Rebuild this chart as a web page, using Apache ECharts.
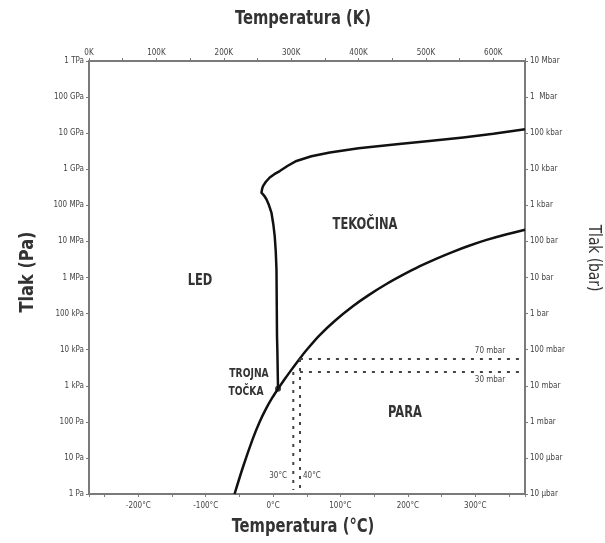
<!DOCTYPE html>
<html>
<head>
<meta charset="utf-8">
<script src="https://cdn.jsdelivr.net/npm/echarts@6/dist/echarts.min.js"></script>
<style>
  html, body { margin: 0; padding: 0; background: #fff; }
  #chart { width: 605px; height: 543px; }
</style>
</head>
<body>
<div id="chart"></div>
<script>
// tick labels (left = Pa, right = bar), index = log10(Pa)
const paLabels = ['1 Pa', '10 Pa', '100 Pa', '1 kPa', '10 kPa', '100 kPa', '1 MPa', '10 MPa', '100 MPa', '1 GPa', '10 GPa', '100 GPa', '1 TPa'];
const barLabels = ['10 µbar', '100 µbar', '1 mbar', '10 mbar', '100 mbar', '1 bar', '10 bar', '100 bar', '1 kbar', '10 kbar', '100 kbar', '1  Mbar', '10 Mbar'];
const kelvinTicks = [0, 100, 200, 300, 400, 500, 600];
const celsiusTicks = [-200, -100, 0, 100, 200, 300];

// sublimation + vaporisation curve (K, Pa)
const vapKelvin = [216, 228.5, 243, 253, 263, 272, 280.5, 290, 300, 313, 325, 342, 365, 392, 415, 442, 465, 491, 515, 541, 565, 590, 620, 647];
const vapPa = [1, 5.6, 33.7, 98, 236, 467, 820, 1486, 2712, 5730, 1.09e4, 2.5e4, 6.35e4, 1.62e5, 3.25e5, 6.7e5, 1.16e6, 2.06e6, 3.3e6, 5.24e6, 7.7e6, 1.1e7, 1.58e7, 2.1e7];

// melting curve (K, Pa)
const meltKelvin = [280.5, 279.5, 279, 278.2, 277.2, 275.6, 273.5, 270.7, 267, 263.3, 259.5, 255.9, 256.8, 258.2, 262.5, 268.2, 275, 283.1, 295, 307.9, 330, 357.4, 400, 456.5, 505, 555.4, 600, 647];
const meltPa = [820, 1e4, 2.34e4, 1.67e6, 5e6, 1.4e7, 3e7, 6.3e7, 1.02e8, 1.47e8, 1.9e8, 2.24e8, 2.8e8, 3.4e8, 4.5e8, 5.9e8, 7.3e8, 8.9e8, 1.25e9, 1.7e9, 2.3e9, 2.9e9, 3.8e9, 4.9e9, 6.1e9, 7.6e9, 9.6e9, 1.29e10];

// trojna točka
const tripleK = 280.5;
const triplePa = 820;

// pomožne črte
const isobarPa = [5520, 2400];
const isobarStartK = 313;
const isotherms = [30, 40];
const isothermTopPa = [2400, 5520];
const isothermBottomPa = 1.3;

const KMAX = 647;
const FONT = "'Liberation Sans Narrow', 'DejaVu Sans Condensed', 'Liberation Sans', sans-serif";
const logP = (p) => Math.log10(p);

const chart = echarts.init(document.getElementById('chart'));

function zip(xs, ys) {
  return xs.map((x, i) => [x, logP(ys[i])]);
}

const axisCommon = {
  axisLine: { onZero: false, lineStyle: { color: '#7a7a7a', width: 2 } },
  axisTick: { show: true, length: 3, lineStyle: { color: '#7a7a7a' } },
  splitLine: { show: false },
  axisLabel: { fontFamily: FONT, fontSize: 8, color: '#444' }
};

function pickLabel(ticks, v, suffix) {
  for (let i = 0; i < ticks.length; i++) {
    if (Math.abs(ticks[i] - v) < 0.01) return ticks[i] + suffix;
  }
  return '';
}

const dashStyle = { color: '#444', width: 2, type: [3, 6] };

function txt(x, y, text, font, opts) {
  return Object.assign({
    type: 'text', x: x, y: y,
    style: { text: text, font: font + ' ' + FONT, fill: '#333', align: 'center', verticalAlign: 'middle' }
  }, opts || {});
}

function small(x, y, text, align) {
  return { type: 'text', x: x, y: y, style: { text: text, font: '8px ' + FONT, fill: '#444', align: align, verticalAlign: 'middle' } };
}

const option = {
  animation: false,
  grid: { left: 89, right: 80, top: 61, bottom: 49 },
  xAxis: [
    Object.assign({}, axisCommon, {
      type: 'value', position: 'bottom',
      min: -273.15, max: KMAX - 273.15, splitNumber: 5,
      minorTick: { show: true, splitNumber: 2, length: 3, lineStyle: { color: '#7a7a7a' } },
      axisLabel: Object.assign({}, axisCommon.axisLabel, {
        margin: 8,
        formatter: (v) => pickLabel(celsiusTicks, v, '°C')
      })
    }),
    Object.assign({}, axisCommon, {
      type: 'value', position: 'top',
      min: 0, max: KMAX, interval: 100,
      minorTick: { show: true, splitNumber: 2, length: 3, lineStyle: { color: '#7a7a7a' } },
      axisLabel: Object.assign({}, axisCommon.axisLabel, {
        margin: 4,
        formatter: (v) => pickLabel(kelvinTicks, v, 'K')
      })
    })
  ],
  yAxis: [
    Object.assign({}, axisCommon, {
      type: 'value', position: 'left',
      min: 0, max: 12, interval: 1,
      axisLabel: Object.assign({}, axisCommon.axisLabel, {
        margin: 5,
        formatter: (v) => paLabels[Math.round(v)]
      })
    }),
    Object.assign({}, axisCommon, {
      type: 'value', position: 'right',
      min: 0, max: 12, interval: 1,
      axisLabel: Object.assign({}, axisCommon.axisLabel, {
        margin: 5,
        formatter: (v) => barLabels[Math.round(v)]
      })
    })
  ],
  series: [
    {
      type: 'line', xAxisIndex: 1, yAxisIndex: 0,
      data: zip(vapKelvin, vapPa),
      smooth: 0.3, showSymbol: false,
      lineStyle: { color: '#111', width: 2.5 }
    },
    {
      type: 'line', xAxisIndex: 1, yAxisIndex: 0,
      data: zip(meltKelvin, meltPa),
      smooth: false, showSymbol: false,
      lineStyle: { color: '#111', width: 2.5, join: 'round' }
    },
    {
      type: 'line', xAxisIndex: 1, yAxisIndex: 0,
      data: [[isobarStartK, logP(isobarPa[0])], [KMAX, logP(isobarPa[0])]],
      showSymbol: false, lineStyle: dashStyle
    },
    {
      type: 'line', xAxisIndex: 1, yAxisIndex: 0,
      data: [[isobarStartK, logP(isobarPa[1])], [KMAX, logP(isobarPa[1])]],
      showSymbol: false, lineStyle: dashStyle
    },
    {
      type: 'line', xAxisIndex: 1, yAxisIndex: 0,
      data: [[isotherms[0] + 273.15, logP(isothermTopPa[0])], [isotherms[0] + 273.15, logP(isothermBottomPa)]],
      showSymbol: false, lineStyle: dashStyle
    },
    {
      type: 'line', xAxisIndex: 1, yAxisIndex: 0,
      data: [[isotherms[1] + 273.15, logP(isothermTopPa[1])], [isotherms[1] + 273.15, logP(isothermBottomPa)]],
      showSymbol: false, lineStyle: dashStyle
    },
    {
      type: 'scatter', xAxisIndex: 1, yAxisIndex: 0,
      data: [[tripleK, logP(triplePa)]],
      symbolSize: 6, itemStyle: { color: '#111' }
    }
  ],
  graphic: [
    txt(303, 19, 'Temperatura (K)', 'bold 20px', { scaleX: 0.82 }),
    txt(303, 527, 'Temperatura (°C)', 'bold 20px', { scaleX: 0.82 }),
    txt(28, 272, 'Tlak (Pa)', 'bold 20px', { rotation: Math.PI / 2, scaleX: 0.9 }),
    txt(594, 258, 'Tlak (bar)', '18px', { rotation: -Math.PI / 2, scaleX: 0.85 }),
    txt(200, 281, 'LED', 'bold 15px', { scaleX: 0.85 }),
    txt(365, 225, 'TEKOČINA', 'bold 15px', { scaleX: 0.85 }),
    txt(405, 413, 'PARA', 'bold 15px', { scaleX: 0.85 }),
    txt(249, 374, 'TROJNA', 'bold 12px', { scaleX: 0.85 }),
    txt(246, 392, 'TOČKA', 'bold 12px', { scaleX: 0.85 }),
    small(490, 351, '70 mbar', 'center'),
    small(490, 380, '30 mbar', 'center'),
    small(287, 476, '30°C', 'right'),
    small(303, 476, '40°C', 'left')
  ]
};

chart.setOption(option);
</script>
</body>
</html>
